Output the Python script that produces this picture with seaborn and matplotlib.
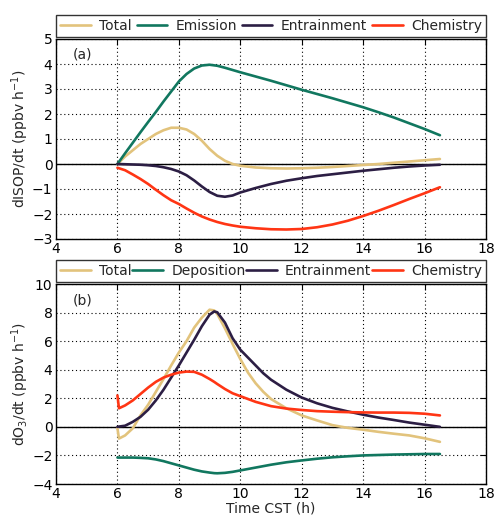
import numpy as np
import pandas as pd
import matplotlib
matplotlib.use("Agg")
import matplotlib.pyplot as plt
import seaborn as sns

# ---------------- data: panel (a) isoprene ----------------
t_a = [6, 6.25, 6.5, 6.75, 7, 7.25, 7.5, 7.75, 8, 8.25, 8.5, 8.75, 9, 9.25, 9.5,
       9.75, 10, 10.5, 11, 11.5, 12, 12.5, 13, 13.5, 14, 14.5, 15, 15.5, 16, 16.5]
isop_total = [0, 0.3, 0.55, 0.8, 1.0, 1.2, 1.35, 1.45, 1.45, 1.38, 1.2, 0.93, 0.6, 0.33, 0.13,
              0.0, -0.07, -0.14, -0.17, -0.18, -0.17, -0.15, -0.12, -0.08, -0.04, 0.0, 0.05, 0.1, 0.15, 0.2]
isop_emission = [0, 0.43, 0.85, 1.27, 1.68, 2.08, 2.5, 2.9, 3.3, 3.6, 3.82, 3.94, 3.97, 3.93, 3.85,
                 3.76, 3.67, 3.5, 3.33, 3.15, 2.97, 2.8, 2.63, 2.45, 2.27, 2.07, 1.86, 1.63, 1.4, 1.15]
isop_entrainment = [0, -0.01, -0.02, -0.03, -0.05, -0.08, -0.13, -0.2, -0.3, -0.45, -0.66, -0.9, -1.12, -1.27, -1.31,
                    -1.26, -1.14, -0.96, -0.8, -0.67, -0.57, -0.48, -0.41, -0.34, -0.27, -0.21, -0.15, -0.1, -0.06, -0.03]
isop_chemistry = [-0.15, -0.25, -0.42, -0.6, -0.8, -1.03, -1.25, -1.45, -1.6, -1.78, -1.95, -2.1, -2.22, -2.32, -2.4,
                  -2.46, -2.51, -2.57, -2.61, -2.62, -2.6, -2.53, -2.42, -2.27, -2.08, -1.87, -1.64, -1.4, -1.17, -0.93]

# ---------------- data: panel (b) ozone ----------------
t_b = [6, 6.05, 6.25, 6.5, 6.75, 7, 7.25, 7.5, 7.75, 8, 8.25, 8.5, 8.75, 9, 9.15, 9.25, 9.5,
       9.75, 10, 10.25, 10.5, 10.75, 11, 11.5, 12, 12.5, 13, 13.5, 14, 14.5, 15, 15.5, 16, 16.5]
o3_total = [-0.1, -0.82, -0.6, -0.1, 0.8, 1.55, 2.45, 3.35, 4.3, 5.2, 6.0, 6.95, 7.65, 8.2, 8.15, 7.9, 6.9,
            5.8, 4.75, 3.8, 3.05, 2.45, 1.95, 1.3, 0.8, 0.45, 0.12, -0.07, -0.2, -0.35, -0.48, -0.6, -0.8, -1.05]
o3_deposition = [-2.15, -2.15, -2.15, -2.15, -2.17, -2.2, -2.28, -2.4, -2.55, -2.7, -2.85, -3.0, -3.12, -3.2, -3.24, -3.25, -3.22,
                 -3.15, -3.05, -2.95, -2.85, -2.75, -2.65, -2.48, -2.35, -2.23, -2.13, -2.06, -2.0, -1.97, -1.94, -1.92, -1.9, -1.9]
o3_entrainment = [0.0, 0.02, 0.08, 0.35, 0.7, 1.2, 1.85, 2.6, 3.45, 4.3, 5.2, 6.1, 7.05, 7.85, 8.08, 8.02, 7.3,
                  6.2, 5.4, 4.85, 4.3, 3.75, 3.3, 2.6, 2.05, 1.65, 1.33, 1.08, 0.85, 0.65, 0.48, 0.3, 0.15, 0.0]
o3_chemistry = [2.2, 1.3, 1.5, 1.85, 2.3, 2.75, 3.15, 3.45, 3.65, 3.8, 3.87, 3.85, 3.65, 3.35, 3.15, 3.0, 2.65,
                2.35, 2.15, 1.95, 1.75, 1.6, 1.45, 1.28, 1.18, 1.1, 1.06, 1.03, 1.01, 1.0, 1.0, 0.98, 0.92, 0.8]

labels_a = ["Total", "Emission", "Entrainment", "Chemistry"]
labels_b = ["Total", "Deposition", "Entrainment", "Chemistry"]
colors = ["#E2C37C", "#11775F", "#2C1E44", "#FF3514"]

xticks = [4, 6, 8, 10, 12, 14, 16, 18]
yticks_a = [-3, -2, -1, 0, 1, 2, 3, 4, 5]
yticks_b = [-4, -2, 0, 2, 4, 6, 8, 10]

def long_df(t, series, labels):
    frames = [pd.DataFrame({"t": t, "v": s, "series": lab}) for s, lab in zip(series, labels)]
    return pd.concat(frames, ignore_index=True)

df_a = long_df(t_a, [isop_total, isop_emission, isop_entrainment, isop_chemistry], labels_a)
df_b = long_df(t_b, [o3_total, o3_deposition, o3_entrainment, o3_chemistry], labels_b)

sns.set_style("white")
plt.rcParams.update({
    "font.family": ["DejaVu Sans"],
    "font.size": 10,
    "xtick.direction": "in",
    "ytick.direction": "in",
    "xtick.top": True,
    "ytick.right": True,
    "xtick.major.size": 4,
    "ytick.major.size": 4,
    "axes.edgecolor": "black",
    "axes.linewidth": 1.0,
})

fig = plt.figure(figsize=(4.96, 5.19), dpi=100)
W, H = 496, 519
ax_a = fig.add_axes([56 / W, 1 - 239 / H, 430 / W, 200 / H])
ax_b = fig.add_axes([56 / W, 1 - 484 / H, 430 / W, 200 / H])

def draw(ax, df, labels, yticks, ylabel, tag):
    pal = dict(zip(labels, colors))
    sns.lineplot(data=df, x="t", y="v", hue="series", hue_order=labels, palette=pal,
                 linewidth=1.9, ax=ax, sort=True, estimator=None)
    ax.axhline(0, color="black", lw=1.0, zorder=1)
    ax.set_xlim(4, 18)
    ax.set_ylim(yticks[0], yticks[-1])
    ax.set_xticks(xticks)
    ax.set_yticks(yticks)
    ax.tick_params(labelsize=10, colors="black", width=0.8)
    ax.tick_params(axis="x", pad=2.5)
    ax.tick_params(axis="y", pad=2.5)
    ax.grid(True, color="black", linestyle=(0, (1, 2.5)), linewidth=0.8)
    ax.set_axisbelow(True)
    ax.set_ylabel(ylabel, fontsize=10, labelpad=1)
    ax.set_xlabel("")
    ax.text(0.04, 0.92, tag, transform=ax.transAxes, fontsize=10, va="center", ha="left")
    handles, labs = ax.get_legend_handles_labels()
    leg = ax.legend(handles, labs, ncol=4, loc="lower left", bbox_to_anchor=(0, 1.01, 1, 0.11),
                    mode="expand", borderaxespad=0, fontsize=10, frameon=True, fancybox=False,
                    handlelength=2.2, handletextpad=0.6, columnspacing=0.4, borderpad=0.3)
    leg.get_frame().set_edgecolor("black")
    leg.get_frame().set_linewidth(1.0)
    for sp in ax.spines.values():
        sp.set_visible(True)
        sp.set_color("black")

draw(ax_a, df_a, labels_a, yticks_a, "dISOP/dt (ppbv h$^{-1}$)", "(a)")
draw(ax_b, df_b, labels_b, yticks_b, "dO$_3$/dt (ppbv h$^{-1}$)", "(b)")
ax_b.set_xlabel("Time CST (h)", fontsize=10, labelpad=0)

fig.savefig("out.png", dpi=100)
